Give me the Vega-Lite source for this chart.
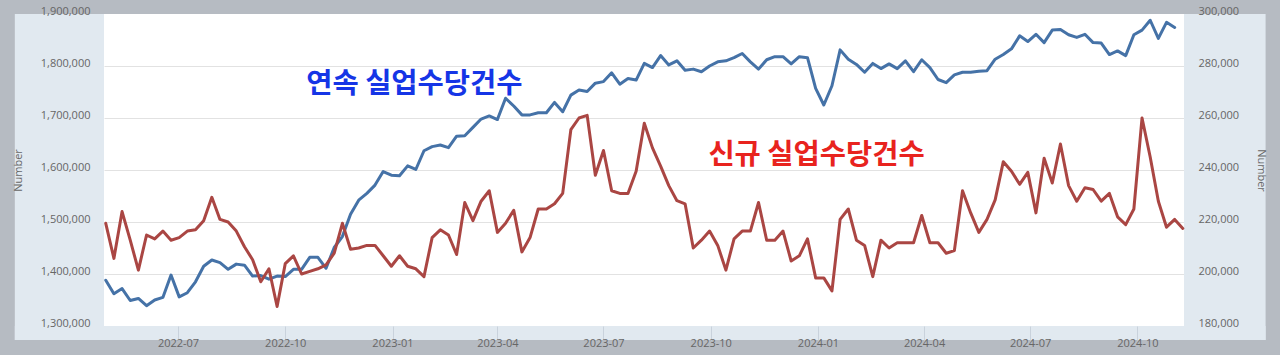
{
  "$schema": "https://vega.github.io/schema/vega-lite/v6.json",
  "width": 1080,
  "height": 312,
  "autosize": {"type": "none"},
  "padding": {"left": 104, "top": 14, "right": 96, "bottom": 29},
  "background": "#b6bbc2",
  "config": {"view": {"fill": "#ffffff", "stroke": null}, "font": "Open Sans"},
  "datasets": {
    "initial": [
      {"date": "2022-04-30", "claims": 219500}, {"date": "2022-05-07", "claims": 206000}, {"date": "2022-05-14", "claims": 224000}, {"date": "2022-05-21", "claims": 213000}, {"date": "2022-05-28", "claims": 201500},
      {"date": "2022-06-04", "claims": 215000}, {"date": "2022-06-11", "claims": 213500}, {"date": "2022-06-18", "claims": 216500}, {"date": "2022-06-25", "claims": 213000}, {"date": "2022-07-02", "claims": 214000},
      {"date": "2022-07-09", "claims": 216500}, {"date": "2022-07-16", "claims": 217000}, {"date": "2022-07-23", "claims": 220500}, {"date": "2022-07-30", "claims": 229500}, {"date": "2022-08-06", "claims": 221000},
      {"date": "2022-08-13", "claims": 220000}, {"date": "2022-08-20", "claims": 216500}, {"date": "2022-08-27", "claims": 210500}, {"date": "2022-09-03", "claims": 205500}, {"date": "2022-09-10", "claims": 197000},
      {"date": "2022-09-17", "claims": 202000}, {"date": "2022-09-24", "claims": 187500}, {"date": "2022-10-01", "claims": 204000}, {"date": "2022-10-08", "claims": 207000}, {"date": "2022-10-15", "claims": 200000},
      {"date": "2022-10-22", "claims": 201000}, {"date": "2022-10-29", "claims": 202000}, {"date": "2022-11-05", "claims": 203500}, {"date": "2022-11-12", "claims": 208000}, {"date": "2022-11-19", "claims": 219500},
      {"date": "2022-11-26", "claims": 209500}, {"date": "2022-12-03", "claims": 210000}, {"date": "2022-12-10", "claims": 211000}, {"date": "2022-12-17", "claims": 211000}, {"date": "2022-12-24", "claims": 207000},
      {"date": "2022-12-31", "claims": 203000}, {"date": "2023-01-07", "claims": 207000}, {"date": "2023-01-14", "claims": 203000}, {"date": "2023-01-21", "claims": 202000}, {"date": "2023-01-28", "claims": 199000},
      {"date": "2023-02-04", "claims": 214000}, {"date": "2023-02-11", "claims": 217000}, {"date": "2023-02-18", "claims": 215000}, {"date": "2023-02-25", "claims": 207500}, {"date": "2023-03-04", "claims": 227500},
      {"date": "2023-03-11", "claims": 220500}, {"date": "2023-03-18", "claims": 228000}, {"date": "2023-03-25", "claims": 232000}, {"date": "2023-04-01", "claims": 216000}, {"date": "2023-04-08", "claims": 219500},
      {"date": "2023-04-15", "claims": 224500}, {"date": "2023-04-22", "claims": 208500}, {"date": "2023-04-29", "claims": 214000}, {"date": "2023-05-06", "claims": 225000}, {"date": "2023-05-13", "claims": 225000},
      {"date": "2023-05-20", "claims": 227000}, {"date": "2023-05-27", "claims": 231000}, {"date": "2023-06-03", "claims": 255500}, {"date": "2023-06-10", "claims": 260000}, {"date": "2023-06-17", "claims": 261000},
      {"date": "2023-06-24", "claims": 238000}, {"date": "2023-07-01", "claims": 247500}, {"date": "2023-07-08", "claims": 232000}, {"date": "2023-07-15", "claims": 231000}, {"date": "2023-07-22", "claims": 231000},
      {"date": "2023-07-29", "claims": 239500}, {"date": "2023-08-05", "claims": 258000}, {"date": "2023-08-12", "claims": 248500}, {"date": "2023-08-19", "claims": 241500}, {"date": "2023-08-26", "claims": 234000},
      {"date": "2023-09-02", "claims": 228200}, {"date": "2023-09-09", "claims": 227000}, {"date": "2023-09-16", "claims": 210000}, {"date": "2023-09-23", "claims": 213000}, {"date": "2023-09-30", "claims": 216500},
      {"date": "2023-10-07", "claims": 211000}, {"date": "2023-10-14", "claims": 201500}, {"date": "2023-10-21", "claims": 213500}, {"date": "2023-10-28", "claims": 216500}, {"date": "2023-11-04", "claims": 216500},
      {"date": "2023-11-11", "claims": 227500}, {"date": "2023-11-18", "claims": 213000}, {"date": "2023-11-25", "claims": 213000}, {"date": "2023-12-02", "claims": 216500}, {"date": "2023-12-09", "claims": 205000},
      {"date": "2023-12-16", "claims": 207000}, {"date": "2023-12-23", "claims": 213500}, {"date": "2023-12-30", "claims": 198500}, {"date": "2024-01-06", "claims": 198500}, {"date": "2024-01-13", "claims": 193500},
      {"date": "2024-01-20", "claims": 221000}, {"date": "2024-01-27", "claims": 225000}, {"date": "2024-02-03", "claims": 213000}, {"date": "2024-02-10", "claims": 211000}, {"date": "2024-02-17", "claims": 199000},
      {"date": "2024-02-24", "claims": 213000}, {"date": "2024-03-02", "claims": 210000}, {"date": "2024-03-09", "claims": 212000}, {"date": "2024-03-16", "claims": 212000}, {"date": "2024-03-23", "claims": 212000},
      {"date": "2024-03-30", "claims": 222500}, {"date": "2024-04-06", "claims": 212000}, {"date": "2024-04-13", "claims": 212000}, {"date": "2024-04-20", "claims": 208000}, {"date": "2024-04-27", "claims": 209000},
      {"date": "2024-05-04", "claims": 232000}, {"date": "2024-05-11", "claims": 223500}, {"date": "2024-05-18", "claims": 216000}, {"date": "2024-05-25", "claims": 221000}, {"date": "2024-06-01", "claims": 228500},
      {"date": "2024-06-08", "claims": 243200}, {"date": "2024-06-15", "claims": 239500}, {"date": "2024-06-22", "claims": 234500}, {"date": "2024-06-29", "claims": 239100}, {"date": "2024-07-06", "claims": 223500},
      {"date": "2024-07-13", "claims": 244500}, {"date": "2024-07-20", "claims": 235000}, {"date": "2024-07-27", "claims": 250000}, {"date": "2024-08-03", "claims": 234000}, {"date": "2024-08-10", "claims": 228000},
      {"date": "2024-08-17", "claims": 233200}, {"date": "2024-08-24", "claims": 232500}, {"date": "2024-08-31", "claims": 228000}, {"date": "2024-09-07", "claims": 231000}, {"date": "2024-09-14", "claims": 222000},
      {"date": "2024-09-21", "claims": 219000}, {"date": "2024-09-28", "claims": 225000}, {"date": "2024-10-05", "claims": 260000}, {"date": "2024-10-12", "claims": 245000}, {"date": "2024-10-19", "claims": 228000},
      {"date": "2024-10-26", "claims": 218000}, {"date": "2024-11-02", "claims": 221000}, {"date": "2024-11-09", "claims": 217500}
    ],
    "continued": [
      {"date": "2022-04-30", "claims": 1388000}, {"date": "2022-05-07", "claims": 1362000}, {"date": "2022-05-14", "claims": 1372000}, {"date": "2022-05-21", "claims": 1349000}, {"date": "2022-05-28", "claims": 1353000},
      {"date": "2022-06-04", "claims": 1339000}, {"date": "2022-06-11", "claims": 1350000}, {"date": "2022-06-18", "claims": 1355000}, {"date": "2022-06-25", "claims": 1398000}, {"date": "2022-07-02", "claims": 1356000},
      {"date": "2022-07-09", "claims": 1364000}, {"date": "2022-07-16", "claims": 1385000}, {"date": "2022-07-23", "claims": 1415000}, {"date": "2022-07-30", "claims": 1427000}, {"date": "2022-08-06", "claims": 1422000},
      {"date": "2022-08-13", "claims": 1409000}, {"date": "2022-08-20", "claims": 1419000}, {"date": "2022-08-27", "claims": 1417000}, {"date": "2022-09-03", "claims": 1396000}, {"date": "2022-09-10", "claims": 1397000},
      {"date": "2022-09-17", "claims": 1390000}, {"date": "2022-09-24", "claims": 1396000}, {"date": "2022-10-01", "claims": 1395000}, {"date": "2022-10-08", "claims": 1409000}, {"date": "2022-10-15", "claims": 1409000},
      {"date": "2022-10-22", "claims": 1432000}, {"date": "2022-10-29", "claims": 1432000}, {"date": "2022-11-05", "claims": 1411000}, {"date": "2022-11-12", "claims": 1451000}, {"date": "2022-11-19", "claims": 1472000},
      {"date": "2022-11-26", "claims": 1515000}, {"date": "2022-12-03", "claims": 1542000}, {"date": "2022-12-10", "claims": 1555000}, {"date": "2022-12-17", "claims": 1571000}, {"date": "2022-12-24", "claims": 1597000},
      {"date": "2022-12-31", "claims": 1590000}, {"date": "2023-01-07", "claims": 1589000}, {"date": "2023-01-14", "claims": 1608000}, {"date": "2023-01-21", "claims": 1601000}, {"date": "2023-01-28", "claims": 1637000},
      {"date": "2023-02-04", "claims": 1645000}, {"date": "2023-02-11", "claims": 1648000}, {"date": "2023-02-18", "claims": 1643000}, {"date": "2023-02-25", "claims": 1665000}, {"date": "2023-03-04", "claims": 1666000},
      {"date": "2023-03-11", "claims": 1682000}, {"date": "2023-03-18", "claims": 1698000}, {"date": "2023-03-25", "claims": 1704000}, {"date": "2023-04-01", "claims": 1697000}, {"date": "2023-04-08", "claims": 1738000},
      {"date": "2023-04-15", "claims": 1723000}, {"date": "2023-04-22", "claims": 1706000}, {"date": "2023-04-29", "claims": 1706000}, {"date": "2023-05-06", "claims": 1710000}, {"date": "2023-05-13", "claims": 1710000},
      {"date": "2023-05-20", "claims": 1730000}, {"date": "2023-05-27", "claims": 1712000}, {"date": "2023-06-03", "claims": 1744000}, {"date": "2023-06-10", "claims": 1754000}, {"date": "2023-06-17", "claims": 1751000},
      {"date": "2023-06-24", "claims": 1767000}, {"date": "2023-07-01", "claims": 1770000}, {"date": "2023-07-08", "claims": 1787000}, {"date": "2023-07-15", "claims": 1765000}, {"date": "2023-07-22", "claims": 1776000},
      {"date": "2023-07-29", "claims": 1773000}, {"date": "2023-08-05", "claims": 1805000}, {"date": "2023-08-12", "claims": 1797000}, {"date": "2023-08-19", "claims": 1820000}, {"date": "2023-08-26", "claims": 1802000},
      {"date": "2023-09-02", "claims": 1810000}, {"date": "2023-09-09", "claims": 1792000}, {"date": "2023-09-16", "claims": 1794000}, {"date": "2023-09-23", "claims": 1789000}, {"date": "2023-09-30", "claims": 1800000},
      {"date": "2023-10-07", "claims": 1808000}, {"date": "2023-10-14", "claims": 1810000}, {"date": "2023-10-21", "claims": 1816000}, {"date": "2023-10-28", "claims": 1824000}, {"date": "2023-11-04", "claims": 1808000},
      {"date": "2023-11-11", "claims": 1794000}, {"date": "2023-11-18", "claims": 1812000}, {"date": "2023-11-25", "claims": 1818000}, {"date": "2023-12-02", "claims": 1818000}, {"date": "2023-12-09", "claims": 1804000},
      {"date": "2023-12-16", "claims": 1818000}, {"date": "2023-12-23", "claims": 1816000}, {"date": "2023-12-30", "claims": 1757000}, {"date": "2024-01-06", "claims": 1725000}, {"date": "2024-01-13", "claims": 1762000},
      {"date": "2024-01-20", "claims": 1831000}, {"date": "2024-01-27", "claims": 1813000}, {"date": "2024-02-03", "claims": 1803000}, {"date": "2024-02-10", "claims": 1788000}, {"date": "2024-02-17", "claims": 1805000},
      {"date": "2024-02-24", "claims": 1795000}, {"date": "2024-03-02", "claims": 1804000}, {"date": "2024-03-09", "claims": 1795000}, {"date": "2024-03-16", "claims": 1810000}, {"date": "2024-03-23", "claims": 1789000},
      {"date": "2024-03-30", "claims": 1812000}, {"date": "2024-04-06", "claims": 1797000}, {"date": "2024-04-13", "claims": 1774000}, {"date": "2024-04-20", "claims": 1768000}, {"date": "2024-04-27", "claims": 1783000},
      {"date": "2024-05-04", "claims": 1788000}, {"date": "2024-05-11", "claims": 1788000}, {"date": "2024-05-18", "claims": 1790000}, {"date": "2024-05-25", "claims": 1791000}, {"date": "2024-06-01", "claims": 1813000},
      {"date": "2024-06-08", "claims": 1822000}, {"date": "2024-06-15", "claims": 1833000}, {"date": "2024-06-22", "claims": 1858000}, {"date": "2024-06-29", "claims": 1847000}, {"date": "2024-07-06", "claims": 1861000},
      {"date": "2024-07-13", "claims": 1845000}, {"date": "2024-07-20", "claims": 1869000}, {"date": "2024-07-27", "claims": 1870000}, {"date": "2024-08-03", "claims": 1860000}, {"date": "2024-08-10", "claims": 1855000},
      {"date": "2024-08-17", "claims": 1861000}, {"date": "2024-08-24", "claims": 1845000}, {"date": "2024-08-31", "claims": 1844000}, {"date": "2024-09-07", "claims": 1822000}, {"date": "2024-09-14", "claims": 1829000},
      {"date": "2024-09-21", "claims": 1820000}, {"date": "2024-09-28", "claims": 1860000}, {"date": "2024-10-05", "claims": 1869000}, {"date": "2024-10-12", "claims": 1888000}, {"date": "2024-10-19", "claims": 1853000},
      {"date": "2024-10-26", "claims": 1884000}, {"date": "2024-11-02", "claims": 1874000}
    ],
    "labels": [
      {"label": "연속 실업수당건수", "series": "continued"},
      {"label": "신규 실업수당건수", "series": "initial"}
    ],
    "panel": [{"part": "panel"}]
  },
  "resolve": {"scale": {"y": "independent"}, "axis": {"y": "independent"}},
  "layer": [
    {
      "data": {"name": "panel"},
      "mark": {"type": "rect", "color": "#e1e9f0", "clip": false},
      "encoding": {
        "x": {"datum": {"year": 2022, "month": 2, "date": 11, "utc": true}, "type": "temporal", "scale": {"type": "utc", "domain": [{"year": 2022, "month": 4, "date": 28, "hours": 12, "utc": true}, {"year": 2024, "month": 11, "date": 10, "utc": true}]},
          "axis": {"values": [{"year": 2022, "month": 7, "date": 1, "utc": true}, {"year": 2022, "month": 10, "date": 1, "utc": true}, {"year": 2023, "month": 1, "date": 1, "utc": true}, {"year": 2023, "month": 4, "date": 1, "utc": true}, {"year": 2023, "month": 7, "date": 1, "utc": true}, {"year": 2023, "month": 10, "date": 1, "utc": true}, {"year": 2024, "month": 1, "date": 1, "utc": true}, {"year": 2024, "month": 4, "date": 1, "utc": true}, {"year": 2024, "month": 7, "date": 1, "utc": true}, {"year": 2024, "month": 10, "date": 1, "utc": true}],
            "labelExpr": "utcFormat(datum.value, '%Y-%m')", "grid": false, "domain": false, "ticks": true, "tickSize": 14, "tickColor": "#c9d2dc", "tickWidth": 1, "labelFont": "Open Sans", "labelFontSize": 11, "labelColor": "#666666", "labelPadding": -3, "labelFlush": false, "labelOverlap": false, "title": null, "zindex": 1}},
        "x2": {"datum": {"year": 2022, "month": 4, "date": 28, "hours": 12, "utc": true}},
        "y": {"datum": 1273000, "type": "quantitative", "scale": {"domain": [1300000, 1900000], "nice": false, "zero": false},
          "axis": {"orient": "left", "grid": true, "gridColor": "#e2e2e2", "gridWidth": 1, "values": [1400000, 1500000, 1600000, 1700000, 1800000], "labels": false, "ticks": false, "domain": false, "title": null, "zindex": 0}},
        "y2": {"datum": 1900000}
      }
    },
    {
      "data": {"name": "panel"},
      "mark": {"type": "rect", "color": "#e1e9f0", "clip": false},
      "encoding": {
        "x": {"datum": {"year": 2024, "month": 11, "date": 10, "utc": true}, "type": "temporal", "scale": {"type": "utc", "domain": [{"year": 2022, "month": 4, "date": 28, "hours": 12, "utc": true}, {"year": 2024, "month": 11, "date": 10, "utc": true}]},
          "axis": {"values": [{"year": 2022, "month": 7, "date": 1, "utc": true}, {"year": 2022, "month": 10, "date": 1, "utc": true}, {"year": 2023, "month": 1, "date": 1, "utc": true}, {"year": 2023, "month": 4, "date": 1, "utc": true}, {"year": 2023, "month": 7, "date": 1, "utc": true}, {"year": 2023, "month": 10, "date": 1, "utc": true}, {"year": 2024, "month": 1, "date": 1, "utc": true}, {"year": 2024, "month": 4, "date": 1, "utc": true}, {"year": 2024, "month": 7, "date": 1, "utc": true}, {"year": 2024, "month": 10, "date": 1, "utc": true}],
            "labelExpr": "utcFormat(datum.value, '%Y-%m')", "grid": false, "domain": false, "ticks": true, "tickSize": 14, "tickColor": "#c9d2dc", "tickWidth": 1, "labelFont": "Open Sans", "labelFontSize": 11, "labelColor": "#666666", "labelPadding": -3, "labelFlush": false, "labelOverlap": false, "title": null, "zindex": 1}},
        "x2": {"datum": {"year": 2025, "month": 1, "date": 19, "utc": true}},
        "y": {"datum": 1273000, "type": "quantitative", "scale": {"domain": [1300000, 1900000], "nice": false, "zero": false}, "axis": null},
        "y2": {"datum": 1900000}
      }
    },
    {
      "data": {"name": "panel"},
      "mark": {"type": "rect", "color": "#e1e9f0", "clip": false},
      "encoding": {
        "x": {"datum": {"year": 2022, "month": 2, "date": 11, "utc": true}, "type": "temporal", "scale": {"type": "utc", "domain": [{"year": 2022, "month": 4, "date": 28, "hours": 12, "utc": true}, {"year": 2024, "month": 11, "date": 10, "utc": true}]},
          "axis": {"values": [{"year": 2022, "month": 7, "date": 1, "utc": true}, {"year": 2022, "month": 10, "date": 1, "utc": true}, {"year": 2023, "month": 1, "date": 1, "utc": true}, {"year": 2023, "month": 4, "date": 1, "utc": true}, {"year": 2023, "month": 7, "date": 1, "utc": true}, {"year": 2023, "month": 10, "date": 1, "utc": true}, {"year": 2024, "month": 1, "date": 1, "utc": true}, {"year": 2024, "month": 4, "date": 1, "utc": true}, {"year": 2024, "month": 7, "date": 1, "utc": true}, {"year": 2024, "month": 10, "date": 1, "utc": true}],
            "labelExpr": "utcFormat(datum.value, '%Y-%m')", "grid": false, "domain": false, "ticks": true, "tickSize": 14, "tickColor": "#c9d2dc", "tickWidth": 1, "labelFont": "Open Sans", "labelFontSize": 11, "labelColor": "#666666", "labelPadding": -3, "labelFlush": false, "labelOverlap": false, "title": null, "zindex": 1}},
        "x2": {"datum": {"year": 2025, "month": 1, "date": 19, "utc": true}},
        "y": {"datum": 1273000, "type": "quantitative", "scale": {"domain": [1300000, 1900000], "nice": false, "zero": false}, "axis": null},
        "y2": {"datum": 1300000}
      }
    },
    {
      "data": {"name": "continued"},
      "mark": {"type": "line", "color": "#4572a7", "strokeWidth": 3, "strokeJoin": "round", "strokeCap": "round", "clip": false},
      "encoding": {
        "x": {"field": "date", "type": "temporal", "scale": {"type": "utc", "domain": [{"year": 2022, "month": 4, "date": 28, "hours": 12, "utc": true}, {"year": 2024, "month": 11, "date": 10, "utc": true}]},
          "axis": {"values": [{"year": 2022, "month": 7, "date": 1, "utc": true}, {"year": 2022, "month": 10, "date": 1, "utc": true}, {"year": 2023, "month": 1, "date": 1, "utc": true}, {"year": 2023, "month": 4, "date": 1, "utc": true}, {"year": 2023, "month": 7, "date": 1, "utc": true}, {"year": 2023, "month": 10, "date": 1, "utc": true}, {"year": 2024, "month": 1, "date": 1, "utc": true}, {"year": 2024, "month": 4, "date": 1, "utc": true}, {"year": 2024, "month": 7, "date": 1, "utc": true}, {"year": 2024, "month": 10, "date": 1, "utc": true}],
            "labelExpr": "utcFormat(datum.value, '%Y-%m')", "grid": false, "domain": false, "ticks": true, "tickSize": 14, "tickColor": "#c9d2dc", "tickWidth": 1, "labelFont": "Open Sans", "labelFontSize": 11, "labelColor": "#666666", "labelPadding": -3, "labelFlush": false, "labelOverlap": false, "title": null, "zindex": 1}},
        "y": {"field": "claims", "type": "quantitative", "scale": {"domain": [1300000, 1900000], "nice": false, "zero": false},
          "axis": {"orient": "left", "values": [1300000, 1400000, 1500000, 1600000, 1700000, 1800000, 1900000], "labelExpr": "format(datum.value, ',')", "grid": false, "ticks": false, "domain": false,
            "labelFont": "Open Sans", "labelFontSize": 11, "labelColor": "#666666", "labelPadding": 14, "labelBaseline": "alphabetic", "labelFlush": false, "labelOverlap": false,
            "title": "Number", "titleFont": "Open Sans", "titleFontSize": 11, "titleFontWeight": "normal", "titleColor": "#666666", "titlePadding": 17, "zindex": 1}}
      }
    },
    {
      "data": {"name": "labels"},
      "transform": [{"filter": "datum.series === 'continued'"}],
      "mark": {"type": "text", "align": "left", "baseline": "middle", "font": "Noto Sans CJK KR", "fontSize": 28.5, "fontWeight": "bold", "color": "#1535e6", "clip": false},
      "encoding": {
        "text": {"field": "label"},
        "x": {"datum": {"year": 2022, "month": 10, "date": 19, "utc": true}, "type": "temporal", "scale": {"type": "utc", "domain": [{"year": 2022, "month": 4, "date": 28, "hours": 12, "utc": true}, {"year": 2024, "month": 11, "date": 10, "utc": true}]},
          "axis": {"values": [{"year": 2022, "month": 7, "date": 1, "utc": true}, {"year": 2022, "month": 10, "date": 1, "utc": true}, {"year": 2023, "month": 1, "date": 1, "utc": true}, {"year": 2023, "month": 4, "date": 1, "utc": true}, {"year": 2023, "month": 7, "date": 1, "utc": true}, {"year": 2023, "month": 10, "date": 1, "utc": true}, {"year": 2024, "month": 1, "date": 1, "utc": true}, {"year": 2024, "month": 4, "date": 1, "utc": true}, {"year": 2024, "month": 7, "date": 1, "utc": true}, {"year": 2024, "month": 10, "date": 1, "utc": true}],
            "labelExpr": "utcFormat(datum.value, '%Y-%m')", "grid": false, "domain": false, "ticks": true, "tickSize": 14, "tickColor": "#c9d2dc", "tickWidth": 1, "labelFont": "Open Sans", "labelFontSize": 11, "labelColor": "#666666", "labelPadding": -3, "labelFlush": false, "labelOverlap": false, "title": null, "zindex": 1}},
        "y": {"datum": 1766000, "type": "quantitative", "scale": {"domain": [1300000, 1900000], "nice": false, "zero": false}, "axis": null}
      }
    },
    {
      "data": {"name": "labels"},
      "transform": [{"filter": "datum.series === 'initial'"}],
      "mark": {"type": "text", "align": "left", "baseline": "middle", "font": "Noto Sans CJK KR", "fontSize": 28.5, "fontWeight": "bold", "color": "#e8231e", "clip": false},
      "encoding": {
        "text": {"field": "label"},
        "x": {"datum": {"year": 2023, "month": 9, "date": 29, "utc": true}, "type": "temporal", "scale": {"type": "utc", "domain": [{"year": 2022, "month": 4, "date": 28, "hours": 12, "utc": true}, {"year": 2024, "month": 11, "date": 10, "utc": true}]},
          "axis": {"values": [{"year": 2022, "month": 7, "date": 1, "utc": true}, {"year": 2022, "month": 10, "date": 1, "utc": true}, {"year": 2023, "month": 1, "date": 1, "utc": true}, {"year": 2023, "month": 4, "date": 1, "utc": true}, {"year": 2023, "month": 7, "date": 1, "utc": true}, {"year": 2023, "month": 10, "date": 1, "utc": true}, {"year": 2024, "month": 1, "date": 1, "utc": true}, {"year": 2024, "month": 4, "date": 1, "utc": true}, {"year": 2024, "month": 7, "date": 1, "utc": true}, {"year": 2024, "month": 10, "date": 1, "utc": true}],
            "labelExpr": "utcFormat(datum.value, '%Y-%m')", "grid": false, "domain": false, "ticks": true, "tickSize": 14, "tickColor": "#c9d2dc", "tickWidth": 1, "labelFont": "Open Sans", "labelFontSize": 11, "labelColor": "#666666", "labelPadding": -3, "labelFlush": false, "labelOverlap": false, "title": null, "zindex": 1}},
        "y": {"datum": 1629000, "type": "quantitative", "scale": {"domain": [1300000, 1900000], "nice": false, "zero": false}, "axis": null}
      }
    },
    {
      "data": {"name": "initial"},
      "mark": {"type": "line", "color": "#aa4643", "strokeWidth": 3, "strokeJoin": "round", "strokeCap": "round", "clip": false},
      "encoding": {
        "x": {"field": "date", "type": "temporal", "scale": {"type": "utc", "domain": [{"year": 2022, "month": 4, "date": 28, "hours": 12, "utc": true}, {"year": 2024, "month": 11, "date": 10, "utc": true}]},
          "axis": {"values": [{"year": 2022, "month": 7, "date": 1, "utc": true}, {"year": 2022, "month": 10, "date": 1, "utc": true}, {"year": 2023, "month": 1, "date": 1, "utc": true}, {"year": 2023, "month": 4, "date": 1, "utc": true}, {"year": 2023, "month": 7, "date": 1, "utc": true}, {"year": 2023, "month": 10, "date": 1, "utc": true}, {"year": 2024, "month": 1, "date": 1, "utc": true}, {"year": 2024, "month": 4, "date": 1, "utc": true}, {"year": 2024, "month": 7, "date": 1, "utc": true}, {"year": 2024, "month": 10, "date": 1, "utc": true}],
            "labelExpr": "utcFormat(datum.value, '%Y-%m')", "grid": false, "domain": false, "ticks": true, "tickSize": 14, "tickColor": "#c9d2dc", "tickWidth": 1, "labelFont": "Open Sans", "labelFontSize": 11, "labelColor": "#666666", "labelPadding": -3, "labelFlush": false, "labelOverlap": false, "title": null, "zindex": 1}},
        "y": {"field": "claims", "type": "quantitative", "scale": {"domain": [180000, 300000], "nice": false, "zero": false},
          "axis": {"orient": "right", "values": [180000, 200000, 220000, 240000, 260000, 280000, 300000], "labelExpr": "format(datum.value, ',')", "grid": false, "ticks": false, "domain": false,
            "labelFont": "Open Sans", "labelFontSize": 11, "labelColor": "#666666", "labelPadding": 14, "labelBaseline": "alphabetic", "labelFlush": false, "labelOverlap": false,
            "title": "Number", "titleFont": "Open Sans", "titleFontSize": 11, "titleFontWeight": "normal", "titleColor": "#666666", "titlePadding": 17, "zindex": 1}}
      }
    }
  ]
}
